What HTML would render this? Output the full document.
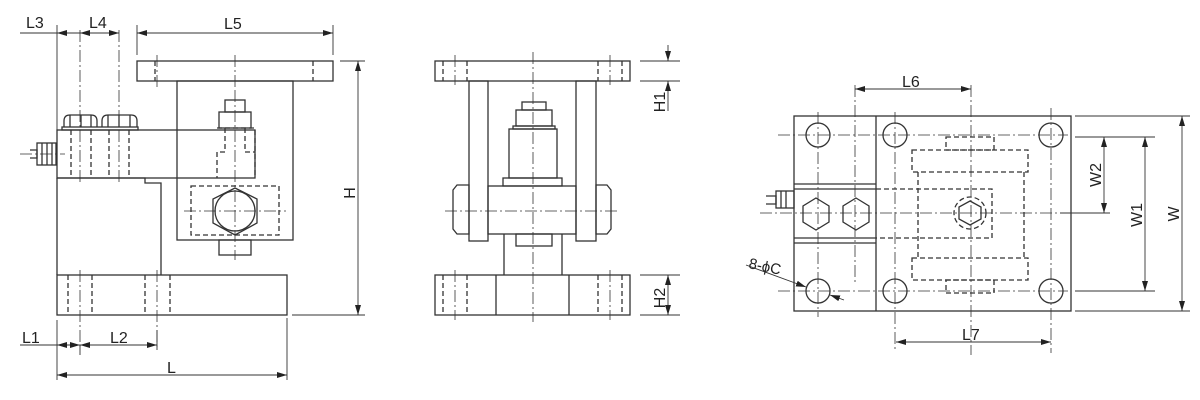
<!DOCTYPE html>
<html><head><meta charset="utf-8"><style>
html,body{margin:0;padding:0;background:#fff;width:1200px;height:400px;overflow:hidden}
svg{display:block}
text{font-family:"Liberation Sans",sans-serif;font-size:16px;fill:#222}
</style></head><body>
<svg width="1200" height="400" viewBox="0 0 1200 400" xmlns="http://www.w3.org/2000/svg">
<defs>
<marker id="a" viewBox="0 0 10 6" refX="10" refY="3" markerWidth="10" markerHeight="6" orient="auto-start-reverse" markerUnits="userSpaceOnUse"><path d="M0,0L10,3L0,6z" fill="#222"/></marker>
</defs>
<g fill="none" stroke="#333" stroke-width="1.3">
<!-- LEFT VIEW -->
<rect x="137" y="61" width="196" height="20"/>
<rect x="177" y="81" width="116" height="159"/>
<rect x="57" y="130" width="198" height="48"/>
<path d="M57 178V275M57 178H145V183H161V275"/>
<rect x="57" y="275" width="230" height="40"/>
<path d="M64 127v-6q0-6 6-6h21q6 0 6 6v6M70 115v12M81 115v12M91 115v12"/>
<path d="M102 127v-6q0-6 6-6h23q6 0 6 6v6M108 115v12M119 115v12M130 115v12"/>
<rect x="62" y="127" width="76" height="3"/>
<rect x="37" y="143" width="19" height="22"/>
<path d="M30 150h7v8h-7M42 143v22M47 143v22M52 143v22"/>
<rect x="219" y="240" width="32" height="15"/>
<rect x="225" y="100" width="20" height="12"/>
<rect x="219" y="112" width="32" height="16"/>
<polygon points="235,188 257,199 257,223 235,235 213,223 213,199"/>
<circle cx="235" cy="211" r="20"/>
<g stroke-dasharray="5,3">
<rect x="191" y="186" width="88" height="49"/>
<path d="M217 128h38v50M225 128v24h-8v26M245 128v24h10M71 130v48M91 130v48M109 130v48M129 130v48M68 275v40M92 275v40M145 275v40M170 275v40M155 61v20M313 61v20"/>
</g>
<g stroke-dasharray="12,3,2,3" stroke-width="0.8">
<path d="M80 30v155M119 30v155M20 154h45M184 211h102M235 90v170M235 55v45M80 270v80M157 270v80M157 55v35"/>
</g>
<!-- MIDDLE VIEW -->
<rect x="435" y="61" width="195" height="20"/>
<rect x="469" y="81" width="19" height="160"/>
<rect x="576" y="81" width="20" height="160"/>
<rect x="522" y="102" width="24" height="8"/>
<rect x="516" y="110" width="36" height="16"/>
<rect x="513" y="126" width="42" height="3"/>
<rect x="509" y="129" width="48" height="49"/>
<rect x="503" y="178" width="59" height="8"/>
<rect x="488" y="186" width="88" height="48"/>
<path d="M453 190l4-5h12v49h-12l-4-5zM611 190l-4-5h-11v49h11l4-5z"/>
<rect x="516" y="234" width="36" height="12"/>
<path d="M504 234v41M562 234v41"/>
<rect x="435" y="275" width="195" height="40"/>
<path d="M496 275v40M569 275v40"/>
<g stroke-dasharray="5,3"><path d="M443 61v20M467 61v20M598 61v20M622 61v20M443 275v40M467 275v40M598 275v40M622 275v40"/></g>
<g stroke-dasharray="12,3,2,3" stroke-width="0.8"><path d="M533 52v270M445 211h175M455 55v30M610 55v30M455 270v50M610 270v50"/></g>
<!-- RIGHT VIEW -->
<rect x="794" y="116" width="277" height="195"/>
<path d="M876 116v195M794 184h82M794 189h82M794 238h82M794 243h82"/>
<rect x="776" y="191" width="18" height="17"/>
<path d="M766 196h10v8h-10M781 191v17M786 191v17"/>
<circle cx="818" cy="135" r="12"/><circle cx="895" cy="135" r="12"/><circle cx="1051" cy="135" r="12"/>
<circle cx="818" cy="291" r="12"/><circle cx="895" cy="291" r="12"/><circle cx="1051" cy="291" r="12"/>
<polygon points="816,198 829,206 829,222 816,230 803,222 803,206"/>
<polygon points="856,198 869,206 869,222 856,230 843,222 843,206"/>
<polygon points="970,201 981,207 981,219 970,225 959,219 959,207"/>
<g stroke-dasharray="5,3">
<rect x="912" y="150" width="116" height="22"/>
<rect x="912" y="258" width="116" height="22"/>
<path d="M918 172v86M1024 172v86M876 189h116v49H876"/>
<circle cx="970" cy="213" r="16"/>
<rect x="946" y="137" width="48" height="13"/>
<rect x="946" y="280" width="48" height="13"/>
</g>
<g stroke-dasharray="12,3,2,3" stroke-width="0.8">
<path d="M778 135h290M778 291h290M760 213h345M818 112v205M855 85v200M895 112v240M971 85v270M1051 108v245"/>
</g>
<!-- dimension lines -->
<g stroke-width="0.9" stroke="#333">
<path d="M57 130V25M137 55V25M333 55V25M57 320V380M287 318V380M340 61H365M292 315H365M640 61H680M640 81H680M640 275H680M640 315H680M1075 116H1190M1075 311H1190M1075 137H1155M1075 291H1155M1060 213H1110M80 345v10M157 330v20"/>
<line x1="80" y1="33" x2="57" y2="33" marker-end="url(#a)"/>
<line x1="20" y1="33" x2="57" y2="33"/>
<line x1="80" y1="33" x2="119" y2="33" marker-start="url(#a)" marker-end="url(#a)"/>
<line x1="137" y1="33" x2="333" y2="33" marker-start="url(#a)" marker-end="url(#a)"/>
<line x1="358" y1="61" x2="358" y2="315" marker-start="url(#a)" marker-end="url(#a)"/>
<line x1="20" y1="345" x2="57" y2="345"/>
<line x1="57" y1="345" x2="80" y2="345" marker-start="url(#a)" marker-end="url(#a)"/>
<line x1="80" y1="345" x2="157" y2="345" marker-start="url(#a)" marker-end="url(#a)"/>
<line x1="57" y1="375" x2="287" y2="375" marker-start="url(#a)" marker-end="url(#a)"/>
<line x1="668" y1="45" x2="668" y2="61" marker-end="url(#a)"/>
<line x1="668" y1="111" x2="668" y2="81" marker-end="url(#a)"/>
<line x1="668" y1="275" x2="668" y2="315" marker-start="url(#a)" marker-end="url(#a)"/>
<line x1="855" y1="89" x2="971" y2="89" marker-start="url(#a)" marker-end="url(#a)"/>
<line x1="896" y1="342" x2="1051" y2="342" marker-start="url(#a)" marker-end="url(#a)"/>
<line x1="1104" y1="137" x2="1104" y2="213" marker-start="url(#a)" marker-end="url(#a)"/>
<line x1="1145" y1="137" x2="1145" y2="291" marker-start="url(#a)" marker-end="url(#a)"/>
<line x1="1182" y1="116" x2="1182" y2="311" marker-start="url(#a)" marker-end="url(#a)"/>
<line x1="746" y1="265" x2="806" y2="287" marker-end="url(#a)"/>
<line x1="844" y1="300" x2="830" y2="295" marker-end="url(#a)"/>
</g>
</g>
<text x="26" y="28">L3</text>
<text x="89" y="28">L4</text>
<text x="224" y="29">L5</text>
<text x="22" y="343">L1</text>
<text x="110" y="343">L2</text>
<text x="167" y="373">L</text>
<text transform="translate(355,193) rotate(-90)" text-anchor="middle">H</text>
<text transform="translate(665,102) rotate(-90)" text-anchor="middle">H1</text>
<text transform="translate(665,298) rotate(-90)" text-anchor="middle">H2</text>
<text x="902" y="87">L6</text>
<text x="962" y="340">L7</text>
<text transform="translate(1101,175) rotate(-90)" text-anchor="middle">W2</text>
<text transform="translate(1142,215) rotate(-90)" text-anchor="middle">W1</text>
<text transform="translate(1179,214) rotate(-90)" text-anchor="middle">W</text>
<text x="748" y="268" style="font-size:15px" transform="rotate(12 748 268)">8-ϕC</text>
</svg>
</body></html>
